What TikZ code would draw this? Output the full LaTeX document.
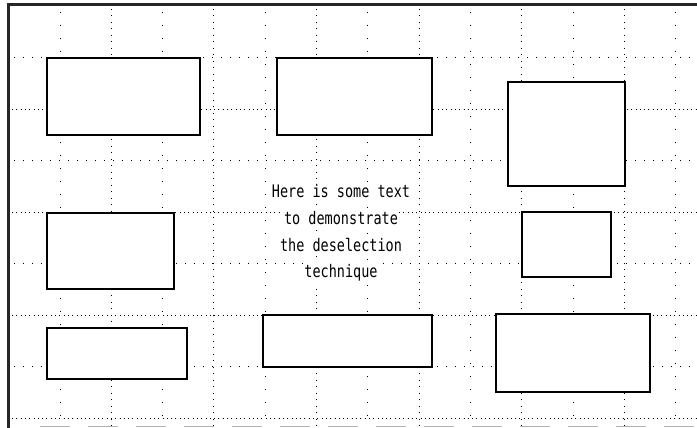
\documentclass[tikz,border=0pt]{standalone}
\usepackage{fontspec}
\usepackage{graphicx}
\newfontfamily\screenfont{DejaVu Sans Mono}
\newcommand{\tline}[1]{\colorbox{white}{\scalebox{1}[1.28]{#1}}}
\begin{document}
\begin{tikzpicture}[x=1pt,y=-1pt,
  vdense/.style={line width=1pt,dash pattern=on 1pt off 5.5pt},
  vsparse/.style={line width=1pt,dash pattern=on 1pt off 12pt},
  hdense/.style={line width=1pt,dash pattern=on 1pt off 3.3pt},
  hsparse/.style={line width=1pt,dash pattern=on 1pt off 8pt},
  boxr/.style={draw=black,fill=white,line width=1.3pt,inner sep=0pt,outer sep=0pt},
  frame/.style={line width=3pt,draw=black!85},
  txt/.style={font=\screenfont\fontsize{13.5}{26.7}\selectfont,align=center,inner sep=0pt}
]
\useasboundingbox (0,0) rectangle (697,428);
\fill[white] (0,0) rectangle (697,428);
% grid
\foreach \k in {0,...,12}{
  \pgfmathsetmacro{\xx}{60+51.33*\k}
  \ifodd\k
    \draw[vdense] (\xx,9) -- (\xx,428);
  \else
    \draw[vsparse] (\xx,12) -- (\xx,428);
  \fi
}
\foreach \j in {0,...,7}{
  \pgfmathsetmacro{\yy}{58+51.43*\j}
  \ifodd\j
    \draw[hdense] (12,\yy) -- (697,\yy);
  \else
    \draw[hsparse] (14,\yy) -- (697,\yy);
  \fi
}
% frame
\draw[frame] (8,428) -- (8,5) -- (697,5);
\draw[black!30,line width=0.8pt,dash pattern=on 30pt off 18pt] (40,426) -- (697,426);
% boxes
\node[boxr,minimum width=153,minimum height=77] (b1) at (123.5,96.5) {};
\node[boxr,minimum width=155,minimum height=77] (b2) at (354.5,96.5) {};
\node[boxr,minimum width=117,minimum height=104] (b3) at (566.5,134) {};
\node[boxr,minimum width=127,minimum height=76] (b4) at (110.5,251) {};
\node[boxr,minimum width=89,minimum height=65] (b5) at (566.5,244.5) {};
\node[boxr,minimum width=140,minimum height=51] (b6) at (117,353.5) {};
\node[boxr,minimum width=169,minimum height=52] (b7) at (347.5,341) {};
\node[boxr,minimum width=154,minimum height=78] (b8) at (573,353) {};
% text
\setlength{\fboxsep}{1.5pt}
\node[txt,anchor=north] (t) at (341,183) {\tline{Here is some text}\\\tline{to demonstrate}\\\tline{the deselection}\\\tline{technique}};
\end{tikzpicture}
\end{document}
